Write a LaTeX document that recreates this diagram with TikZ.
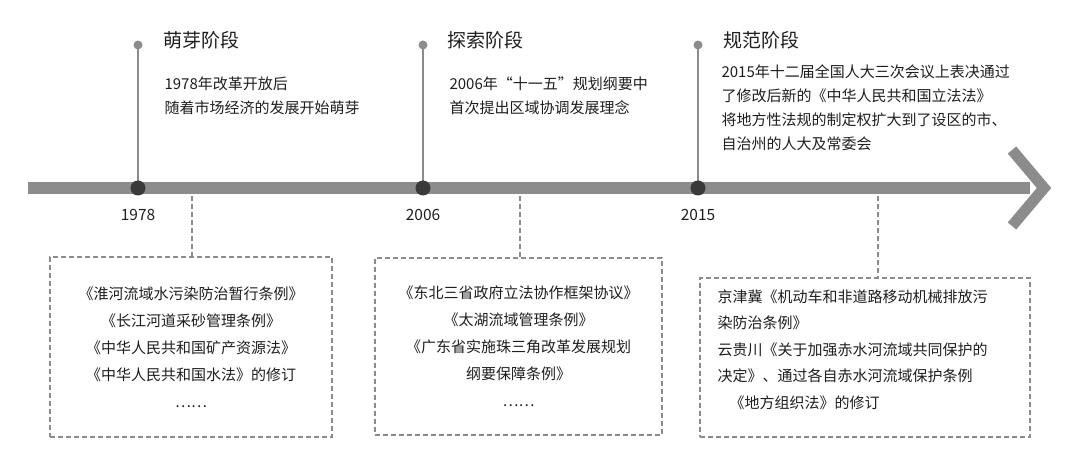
\documentclass[tikz,border=0pt]{standalone}
\usepackage{fontspec}
\setmainfont{Noto Sans CJK SC}
\usetikzlibrary{positioning}
\definecolor{barcol}{HTML}{8C8C8C}
\definecolor{dotcol}{HTML}{3A3A3A}
\definecolor{txtcol}{HTML}{1E1E1E}
\tikzset{
  stage/.style={anchor=west,font=\fontsize{19}{22}\selectfont,text=txtcol},
  note/.style={anchor=north west,align=left,font=\fontsize{15}{24}\selectfont,text=txtcol},
  year/.style={font=\fontsize{15.5}{18}\selectfont,text=txtcol},
  lawbox/.style={draw=barcol,dash pattern=on 5pt off 3pt,line width=1.6pt,align=center,
    font=\fontsize{15}{27}\selectfont,text=txtcol,inner sep=0pt},
  link/.style={draw=barcol,dash pattern=on 5pt off 3pt,line width=1.4pt},
  stem/.style={draw=barcol,line width=2.5pt}
}
\begin{document}
\begin{tikzpicture}[x=1pt,y=-1pt]
\useasboundingbox (0,0) rectangle (1080,473);
% main time bar
\draw[barcol,line width=12pt] (28,188) -- (1030,188);
\draw[barcol,line width=11pt,line join=miter] (1012,150) -- (1044,188) -- (1012,226);

\foreach \n/\x/\yr in {a/138/1978,b/423/2006,c/698/2015}
{
  \coordinate (top\n) at (\x,45);
  \coordinate (pt\n) at (\x,188);
  \draw[stem] (top\n) -- (pt\n);
  \fill[barcol] (top\n) circle (4.5);
  \fill[dotcol] (pt\n) circle (7.5);
  \node[year] (yr\n) at (\x,215) {\yr};
}

\node[stage] (sa) at (160,40) {萌芽阶段};
\node[stage] (sb) at (444,40) {探索阶段};
\node[stage] (sc) at (720,40) {规范阶段};

\node[note] (na) at (161,73) {1978年改革开放后\\随着市场经济的发展开始萌芽};
\node[note] (nb) at (446,73) {2006年“十一五”规划纲要中\\首次提出区域协调发展理念};
\node[note] (nc) at (718,61) {2015年十二届全国人大三次会议上表决通过\\了修改后新的《中华人民共和国立法法》\\将地方性法规的制定权扩大到了设区的市、\\自治州的人大及常委会};

\node[lawbox,minimum width=282pt,minimum height=180pt] (ba) at (191,347)
  {《淮河流域水污染防治暂行条例》\\《长江河道采砂管理条例》\\《中华人民共和国矿产资源法》\\《中华人民共和国水法》的修订\\……};
\node[lawbox,minimum width=287pt,minimum height=177pt] (bb) at (518.5,346.5)
  {《东北三省政府立法协作框架协议》\\《太湖流域管理条例》\\《广东省实施珠三角改革发展规划\\纲要保障条例》\\……};
\node[lawbox,minimum width=330pt,minimum height=159pt] (bc) at (865,357.5) {};
\node[note,font=\fontsize{15}{26.5}\selectfont] (tc) at (714,286)
  {京津冀《机动车和非道路移动机械排放污\\染防治条例》\\云贵川《关于加强赤水河流域共同保护的\\决定》、通过各自赤水河流域保护条例\\\hspace*{0.8em}《地方组织法》的修订};

\coordinate (la) at (192,196);
\coordinate (lb) at (520,196);
\coordinate (lc) at (878,196);
\draw[link] (la) -- (ba.north -| la);
\draw[link] (lb) -- (bb.north -| lb);
\draw[link] (lc) -- (bc.north -| lc);
\end{tikzpicture}
\end{document}
